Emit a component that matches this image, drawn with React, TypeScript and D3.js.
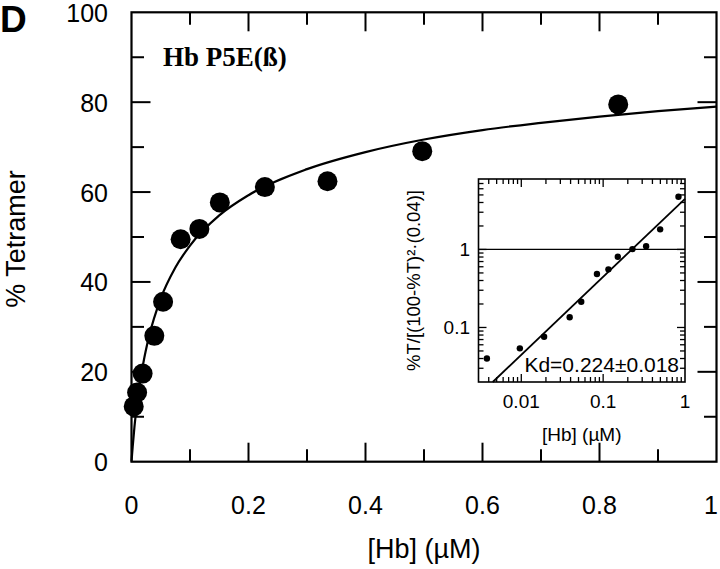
import React from "react";
import * as d3 from "d3";

// ---- data ----
const hbConc = [0.0038, 0.0096, 0.019, 0.039, 0.054, 0.084, 0.116, 0.151, 0.228, 0.335, 0.497, 0.832];
const pctTetramer = [12.3, 15.4, 19.6, 28.0, 35.6, 49.5, 51.8, 57.7, 61.1, 62.4, 69.1, 79.5];
const insetY = [0.040, 0.054, 0.076, 0.135, 0.214, 0.484, 0.556, 0.807, 1.01, 1.1, 1.81, 4.74];

// fitted curve (main panel)
const curveX = [0, 0.001, 0.002, 0.005, 0.01, 0.02, 0.03, 0.05, 0.075, 0.1, 0.15, 0.2, 0.3, 0.4, 0.5, 0.6, 0.7, 0.8, 0.9, 1.0];
const curveT = [0, 1.7, 3.3, 7.7, 13.4, 21.8, 27.9, 36.3, 43.2, 48.1, 54.8, 59.3, 65.1, 68.9, 71.7, 73.8, 75.4, 76.8, 78.0, 79.0];

// fitted line (inset) end points
const fitX = [0.00448, 1];
const fitY = [0.02, 4.46];

const xTickLabels = ["0", "0.2", "0.4", "0.6", "0.8", "1"];
const xTickValues = [0, 0.2, 0.4, 0.6, 0.8, 1];
const yTickLabels = ["0", "20", "40", "60", "80", "100"];
const yTickValues = [0, 20, 40, 60, 80, 100];
const insetXTickValues = [0.01, 0.1, 1];
const insetXTickLabels = ["0.01", "0.1", "1"];
const insetYTickValues = [0.1, 1];
const insetYTickLabels = ["0.1", "1"];

const panelLetter = "D";
const sampleLabel = "Hb P5E(ß)";
const kdLabel = "Kd=0.224±0.018";

export default function App() {
  const L = 131.5, R = 716.5, T = 12.3, B = 461.7;
  const x = d3.scaleLinear().domain([0, 1]).range([L, R]);
  const y = d3.scaleLinear().domain([0, 100]).range([B, T]);

  const iL = 478.5, iR = 685, iT = 179, iB = 382;
  const ix = d3.scaleLog().domain([0.003, 1]).range([iL, iR]);
  const iy = d3.scaleLog().domain([0.02, 8]).range([iB, iT]);

  const sans = "'Liberation Sans', Arial, Helvetica, sans-serif";
  const serif = "'Liberation Serif', 'Times New Roman', serif";

  const curvePath = d3
    .line<number>()
    .x((_, i) => x(curveX[i]))
    .y((_, i) => y(curveT[i]))
    .curve(d3.curveMonotoneX)(curveX.map((v) => v)) as string;

  const xMinor = d3.range(0, 11).map((i) => i / 10);
  const yMinor = d3.range(0, 11).map((i) => i * 10);

  const majLen = 19, minLen = 12.5;
  const ticks: JSX.Element[] = [];
  xMinor.forEach((v, i) => {
    if (i === 0 || i === 10) return;
    const len = i % 2 === 0 ? majLen : minLen;
    ticks.push(<line key={"xb" + i} x1={x(v)} x2={x(v)} y1={B} y2={B - len} />);
    ticks.push(<line key={"xt" + i} x1={x(v)} x2={x(v)} y1={T} y2={T + len} />);
  });
  yMinor.forEach((v, i) => {
    if (i === 0 || i === 10) return;
    const len = i % 2 === 0 ? majLen : minLen;
    ticks.push(<line key={"yl" + i} x1={L} x2={L + len} y1={y(v)} y2={y(v)} />);
    ticks.push(<line key={"yr" + i} x1={R} x2={R - len} y1={y(v)} y2={y(v)} />);
  });

  // inset ticks
  const iTicks: JSX.Element[] = [];
  const ixMinor: number[] = [];
  [0.001, 0.01, 0.1].forEach((dec) => {
    for (let k = 1; k <= 9; k++) {
      const v = dec * k;
      if (v >= 0.003 - 1e-9 && v <= 1 + 1e-9) ixMinor.push(v);
    }
  });
  ixMinor.push(1);
  ixMinor.forEach((v, i) => {
    const major = insetXTickValues.some((m) => Math.abs(m - v) < 1e-9);
    const len = major ? 8 : 5;
    const px = ix(v);
    if (px <= iL + 0.5 || px >= iR - 0.5) return;
    iTicks.push(<line key={"ixb" + i} x1={px} x2={px} y1={iB} y2={iB - len} />);
    iTicks.push(<line key={"ixt" + i} x1={px} x2={px} y1={iT} y2={iT + len} />);
  });
  const iyMinor: number[] = [];
  [0.01, 0.1, 1].forEach((dec) => {
    for (let k = 1; k <= 9; k++) {
      const v = dec * k;
      if (v >= 0.02 - 1e-9 && v <= 8 + 1e-9) iyMinor.push(v);
    }
  });
  iyMinor.forEach((v, i) => {
    const major = insetYTickValues.some((m) => Math.abs(m - v) < 1e-9);
    const len = major ? 8 : 5;
    const py = iy(v);
    if (py >= iB - 0.5 || py <= iT + 0.5) return;
    iTicks.push(<line key={"iyl" + i} x1={iL} x2={iL + len} y1={py} y2={py} />);
    iTicks.push(<line key={"iyr" + i} x1={iR} x2={iR - len} y1={py} y2={py} />);
  });

  return (
    <svg
      width={720}
      height={569}
      viewBox="0 0 720 569"
      style={{ position: "absolute", left: 0, top: 0, background: "#fff", display: "block" }}
    >
      <rect x={0} y={0} width={720} height={569} fill="#fff" />
      {/* panel letter */}
      <text x={0} y={32} fontFamily={sans} fontWeight="bold" fontSize={37} fill="#000">
        {panelLetter}
      </text>

      {/* main frame */}
      <rect x={L} y={T} width={R - L} height={B - T} fill="none" stroke="#000" strokeWidth={2.2} />
      <g stroke="#000" strokeWidth={2}>{ticks}</g>

      {/* y tick labels */}
      {yTickValues.map((v, i) => (
        <text key={"yl" + i} x={108} y={y(v) + 9.5} textAnchor="end" fontFamily={sans} fontSize={25} fill="#000">
          {yTickLabels[i]}
        </text>
      ))}
      {/* x tick labels */}
      {xTickValues.map((v, i) => (
        <text
          key={"xl" + i}
          x={Math.min(x(v), 711)}
          y={514}
          textAnchor="middle"
          fontFamily={sans}
          fontSize={25}
          fill="#000"
        >
          {xTickLabels[i]}
        </text>
      ))}
      <text x={(L + R) / 2} y={558} textAnchor="middle" fontFamily={sans} fontSize={27} fill="#000">
        [Hb] (µM)
      </text>
      <text
        transform={`translate(25, 239) rotate(-90)`}
        textAnchor="middle"
        fontFamily={sans}
        fontSize={27}
        fill="#000"
      >
        % Tetramer
      </text>

      <text x={163} y={66} fontFamily={serif} fontWeight="bold" fontSize={27} fill="#000">
        {sampleLabel}
      </text>

      {/* inset */}
      <rect x={iL} y={iT} width={iR - iL} height={iB - iT} fill="#fff" stroke="#000" strokeWidth={1.6} />
      <g stroke="#000" strokeWidth={1.3}>{iTicks}</g>
      <line x1={iL} x2={iR} y1={iy(1)} y2={iy(1)} stroke="#000" strokeWidth={1.2} />
      <line x1={ix(fitX[0])} y1={iy(fitY[0])} x2={ix(fitX[1])} y2={iy(fitY[1])} stroke="#000" strokeWidth={1.8} />
      {hbConc.map((v, i) => (
        <circle key={"ip" + i} cx={ix(v)} cy={iy(insetY[i])} r={3.2} fill="#000" />
      ))}
      <text x={679} y={372} textAnchor="end" fontFamily={sans} fontSize={21} fill="#000">
        {kdLabel}
      </text>
      {insetXTickValues.map((v, i) => (
        <text key={"ixl" + i} x={ix(v)} y={408} textAnchor="middle" fontFamily={sans} fontSize={19} fill="#000">
          {insetXTickLabels[i]}
        </text>
      ))}
      {insetYTickValues.map((v, i) => (
        <text key={"iyl" + i} x={470} y={iy(v) + 7} textAnchor="end" fontFamily={sans} fontSize={19} fill="#000">
          {insetYTickLabels[i]}
        </text>
      ))}
      <text x={(iL + iR) / 2} y={441} textAnchor="middle" fontFamily={sans} fontSize={19} fill="#000">
        [Hb] (µM)
      </text>
      <text
        transform={`translate(420, ${(iT + iB) / 2}) rotate(-90)`}
        textAnchor="middle"
        fontFamily={sans}
        fontSize={18.5}
        fill="#000"
      >
        %T/[(100-%T)²·(0.04)]
      </text>

      {/* main curve and points */}
      <path d={curvePath} fill="none" stroke="#000" strokeWidth={2.2} />
      {hbConc.map((v, i) => (
        <circle key={"p" + i} cx={x(v)} cy={y(pctTetramer[i])} r={10} fill="#000" />
      ))}
    </svg>
  );
}
